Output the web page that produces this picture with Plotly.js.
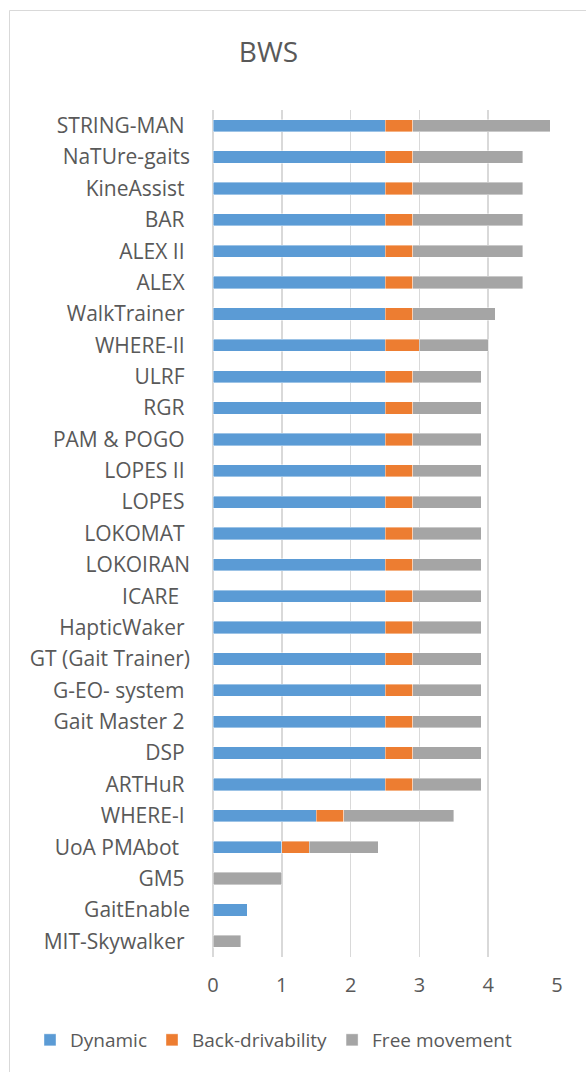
<!DOCTYPE html>
<html>
<head>
<meta charset="utf-8">
<script src="https://cdn.plot.ly/plotly-3.0.1.min.js"></script>
<style>html,body{margin:0;padding:0;background:#fff;}#chart{width:586px;height:1072px;}</style>
</head>
<body>
<div id="chart"></div>
<script>
// Categories listed bottom to top
var categories = [
  "MIT-Skywalker\u00A0", "GaitEnable", "GM5\u00A0", "UoA PMAbot\u00A0\u00A0", "WHERE-I\u00A0",
  "ARTHuR\u00A0", "DSP\u00A0", "Gait Master 2\u00A0", "G-EO- system\u00A0", "GT (Gait Trainer)",
  "HapticWaker\u00A0", "ICARE\u00A0\u00A0", "LOKOIRAN", "LOKOMAT\u00A0", "LOPES\u00A0",
  "LOPES II\u00A0", "PAM & POGO\u00A0", "RGR\u00A0", "ULRF\u00A0", "WHERE-II\u00A0",
  "WalkTrainer\u00A0", "ALEX\u00A0", "ALEX II\u00A0", "BAR\u00A0", "KineAssist\u00A0",
  "NaTUre-gaits", "STRING-MAN\u00A0"
];
var dynamic = [0, 0.5, 0, 1, 1.5, 2.5, 2.5, 2.5, 2.5, 2.5, 2.5, 2.5, 2.5, 2.5, 2.5, 2.5, 2.5, 2.5, 2.5, 2.5, 2.5, 2.5, 2.5, 2.5, 2.5, 2.5, 2.5];
var backDrivability = [0, 0, 0, 0.4, 0.4, 0.4, 0.4, 0.4, 0.4, 0.4, 0.4, 0.4, 0.4, 0.4, 0.4, 0.4, 0.4, 0.4, 0.4, 0.5, 0.4, 0.4, 0.4, 0.4, 0.4, 0.4, 0.4];
var freeMovement = [0.4, 0, 1, 1, 1.6, 1, 1, 1, 1, 1, 1, 1, 1, 1, 1, 1, 1, 1, 1, 1, 1.2, 1.6, 1.6, 1.6, 1.6, 1.6, 2.0];
var seriesNames = ["Dynamic", "Back-drivability", "Free movement"];
var xTicks = [0, 1, 2, 3, 4, 5];

var colors = ["#5B9BD5", "#ED7D31", "#A5A5A5"];
var values = [dynamic, backDrivability, freeMovement];
var textColor = "#595959";
var fontFam = "'Open Sans', 'Noto Sans', sans-serif";

var traces = values.map(function (v, i) {
  return {
    type: "bar",
    orientation: "h",
    name: seriesNames[i],
    y: categories,
    x: v,
    marker: { color: colors[i], line: { color: "rgba(255,255,255,0.5)", width: 0.8 } },
    hoverinfo: "x+y+name"
  };
});

var layout = {
  width: 586,
  height: 1072,
  margin: { l: 213, r: 29, t: 110, b: 115, pad: 0 },
  paper_bgcolor: "#fff",
  plot_bgcolor: "#fff",
  barmode: "stack",
  bargap: 0.61,
  font: { family: fontFam, color: textColor, size: 20 },
  title: {
    text: "BWS",
    font: { family: fontFam, size: 28, color: textColor },
    xref: "container", yref: "container",
    x: 268.5 / 586, y: 1 - 52 / 1072,
    xanchor: "center", yanchor: "middle"
  },
  xaxis: {
    range: [0, 5],
    tickvals: xTicks,
    ticktext: xTicks.map(String),
    showgrid: true,
    gridcolor: "#D9D9D9",
    gridwidth: 1.5,
    zeroline: true,
    zerolinecolor: "#D9D9D9",
    zerolinewidth: 1.5,
    showline: false,
    ticks: "",
    ticklabelstandoff: 14,
    tickfont: { family: fontFam, size: 20, color: textColor },
    fixedrange: true
  },
  yaxis: {
    type: "category",
    categoryorder: "array",
    categoryarray: categories,
    range: [-0.5, categories.length - 0.5],
    showgrid: false,
    zeroline: false,
    showline: false,
    ticks: "",
    ticklabelstandoff: 22,
    tickfont: { family: fontFam, size: 21, color: textColor },
    fixedrange: true
  },
  showlegend: true,
  legend: {
    orientation: "h",
    xref: "paper", yref: "paper",
    x: (30 - 213) / 344, y: (957 - 1040) / 847,
    xanchor: "left", yanchor: "middle",
    font: { family: fontFam, size: 19, color: textColor },
    traceorder: "normal",
    itemclick: false, itemdoubleclick: false
  },
  shapes: [{
    type: "rect", xref: "paper", yref: "paper", layer: "below",
    x0: (9.5 - 213) / 344, x1: 1.5,
    y0: (957 - 1090) / 847, y1: (957 - 10.5) / 847,
    line: { color: "#D9D9D9", width: 1 }, fillcolor: "rgba(0,0,0,0)"
  }]
};

Plotly.newPlot("chart", traces, layout, { displayModeBar: false, staticPlot: true });
</script>
</body>
</html>
